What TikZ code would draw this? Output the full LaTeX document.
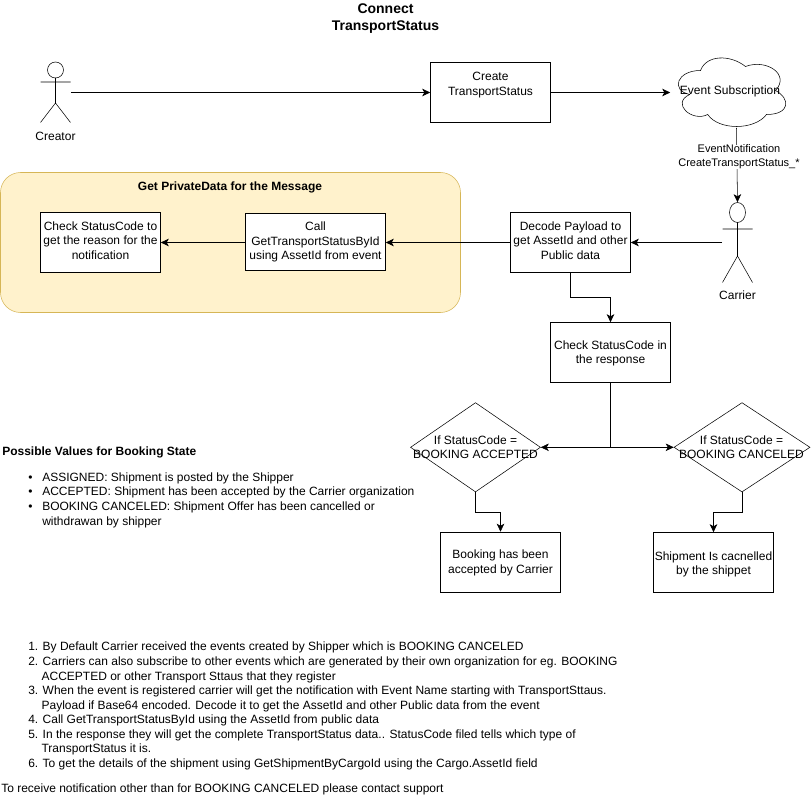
\documentclass[tikz,border=0pt]{standalone}
\usepackage{fontspec}
\setmainfont{Liberation Sans}
\usetikzlibrary{arrows.meta,shapes.geometric}
\newcommand{\txtA}{\fontsize{9}{10.9}\selectfont}
\newcommand{\txtB}{\fontsize{8.25}{10.5}\selectfont}
\newcommand{\txtT}{\fontsize{10.5}{12.8}\selectfont\bfseries}
\newcommand{\lowdepth}[1]{\rule[-#1]{0pt}{#1}}
\newcommand{\highline}[1]{\rule{0pt}{#1}}
\tikzset{
  x=0.75pt,y=-0.75pt,
  line width=0.75pt,
  flow/.style={draw=black,-{Stealth[length=6pt,width=5.6pt,inset=1.6pt]}},
  box/.style={draw=black,fill=white,rectangle,inner sep=0pt,align=center,font=\txtA,minimum width=90pt,minimum height=45pt},
  actorbox/.style={rectangle,inner sep=0pt,minimum width=22.5pt,minimum height=45pt},
  plain/.style={inner sep=0pt,align=center,font=\txtA},
  dec/.style={draw=black,diamond,inner sep=0pt,aspect=1.45},
  group/.style={draw=groupline,fill=groupfill,rounded corners=15pt},
}
\definecolor{groupline}{HTML}{D6B656}
\definecolor{groupfill}{HTML}{FFF2CC}
\begin{document}
\begin{tikzpicture}
\useasboundingbox (0,0) rectangle (811,802);
\fill[white] (0,0) rectangle (811,802);
% group
\draw[group] (0.5,172.5) rectangle (460.5,312.5);
\node[plain,font=\txtA\bfseries] (grouptitle) at (230,187.5) {Get PrivateData for the Message};
% title
\node[plain,font=\txtT] (title) at (385.5,18.5) {Connect\\TransportStatus};
% actors
\node[actorbox] (creator) at (55.5,92.5) {};
\draw (55.5,70) circle[radius=8];
\draw (55.5,78) -- (55.5,103) (40.5,82) -- (70.5,82) (40.5,122.5) -- (55.5,103) -- (70.5,122.5);
\node[plain] (creatorlabel) at (55.5,136) {Creator};
\node[actorbox,minimum height=60pt] (carrier) at (737.5,242.5) {};
\draw (737.5,212.5) ellipse[x radius=8,y radius=10];
\draw (737.5,222.5) -- (737.5,256) (722.5,229) -- (752.5,229) (722.5,282.5) -- (737.5,256) -- (752.5,282.5);
\node[plain] (carrierlabel) at (737.5,295.5) {Carrier};
% boxes
\node[box] (create) at (490.5,92.5) {Create\\TransportStatus\\\lowdepth{1.8pt}};
\node[box] (decode) at (570.5,242.5) {Decode Payload to\\get AssetId and other\\Public data\lowdepth{3pt}};
\node[box,minimum width=105pt,minimum height=43pt] (call) at (315.5,242) {Call\\GetTransportStatusById\\using AssetId from event};
\node[box] (reason) at (100.5,242.5) {Check StatusCode to\\get the reason for the\\notification\lowdepth{3pt}};
\node[box] (check) at (610.5,352.5) {\highline{8pt}Check StatusCode in\\the response};
\node[box] (accepted) at (500.5,562) {\highline{8pt}Booking has been\\accepted by Carrier};
\node[box] (cancelled) at (713.5,562.5) {\highline{9.5pt}Shipment Is cacnelled\\by the shippet};
% cloud
\node[rectangle,inner sep=0pt,minimum width=90pt,minimum height=60pt] (cloud) at (730.5,90.5) {};
\begin{scope}[shift={(670.5,50.5)},x=0.9pt,y=-0.6pt]
\draw (25,25) .. controls (5,25) and (0,50) .. (16,55)
  .. controls (0,66) and (18,90) .. (31,80)
  .. controls (40,100) and (70,100) .. (80,80)
  .. controls (100,80) and (100,60) .. (87.5,50)
  .. controls (100,30) and (80,10) .. (62.5,20)
  .. controls (50,5) and (30,5) .. (25,25) -- cycle;
\end{scope}
\node[plain] (cloudtext) at (730,91) {Event Subscription};
\coordinate (cloudbottom) at (736.5,128);
% diamonds
\node[dec,minimum width=97.5pt,minimum height=67pt] (dacc) at (475.5,447.3) {};
\node[plain] (dacctext) at (475.5,447) {If StatusCode =\\BOOKING ACCEPTED};
\node[dec,minimum width=102pt,minimum height=67pt] (dcan) at (742,447.3) {};
\node[plain] (dcantext) at (741.5,447) {If StatusCode =\\BOOKING CANCELED};
% connectors
\draw[flow] (creator.east |- create.west) -- (create.west);
\draw[flow] (create.east) -- (cloud.west |- create.east);
\draw[flow] (cloudbottom) -- (carrier.north);
\node[plain,font=\txtB,fill=white] (evlabel) at (739,157) {EventNotification\\CreateTransportStatus\_*};
\draw[flow] (carrier.west) -- (decode.east);
\draw[flow] (decode.west) -- (call.east |- decode.west);
\draw[flow] (call.west |- decode.west) -- (reason.east);
\draw[flow] (decode.south) -- ++(0,25) -| (check.north);
\draw[flow] (check.south) |- (dacc.east);
\draw[flow] (check.south) |- (dcan.west);
\draw[flow] (dacc.south) -- ++(0,20) -| (accepted.north);
\draw[flow] (dcan.south) -- ++(0,20) -| (cancelled.north);
% notes
\node[plain,anchor=west,font=\txtA\bfseries] (statehead) at (2,452.5) {Possible Values for Booking State};
\node[plain,anchor=north west,align=left] (states) at (28,472.5) {%
\makebox[10.5pt][l]{•}ASSIGNED: Shipment is posted by the Shipper\\
\makebox[10.5pt][l]{•}ACCEPTED: Shipment has been accepted by the Carrier organization\\
\makebox[10.5pt][l]{•}BOOKING CANCELED: Shipment Offer has been cancelled or\\
\hspace*{10.5pt}withdrawan by shipper};
\node[plain,anchor=north west,align=left] (steps) at (28,642) {%
1. By Default Carrier received the events created by Shipper which is BOOKING CANCELED\\
2. Carriers can also subscribe to other events which are generated by their own organization for eg. BOOKING\\
\hspace*{10pt}ACCEPTED or other Transport Sttaus that they register\\
3. When the event is registered carrier will get the notification with Event Name starting with TransportSttaus.\\
\hspace*{10pt}Payload if Base64 encoded. Decode it to get the AssetId and other Public data from the event\\
4. Call GetTransportStatusById using the AssetId from public data\\
5. In the response they will get the complete TransportStatus data.. StatusCode filed tells which type of\\
\hspace*{10pt}TransportStatus it is.\\
6. To get the details of the shipment using GetShipmentByCargoId using the Cargo.AssetId field};
\node[plain,anchor=west] (support) at (1,789.5) {To receive notification other than for BOOKING CANCELED please contact support};
\end{tikzpicture}
\end{document}
